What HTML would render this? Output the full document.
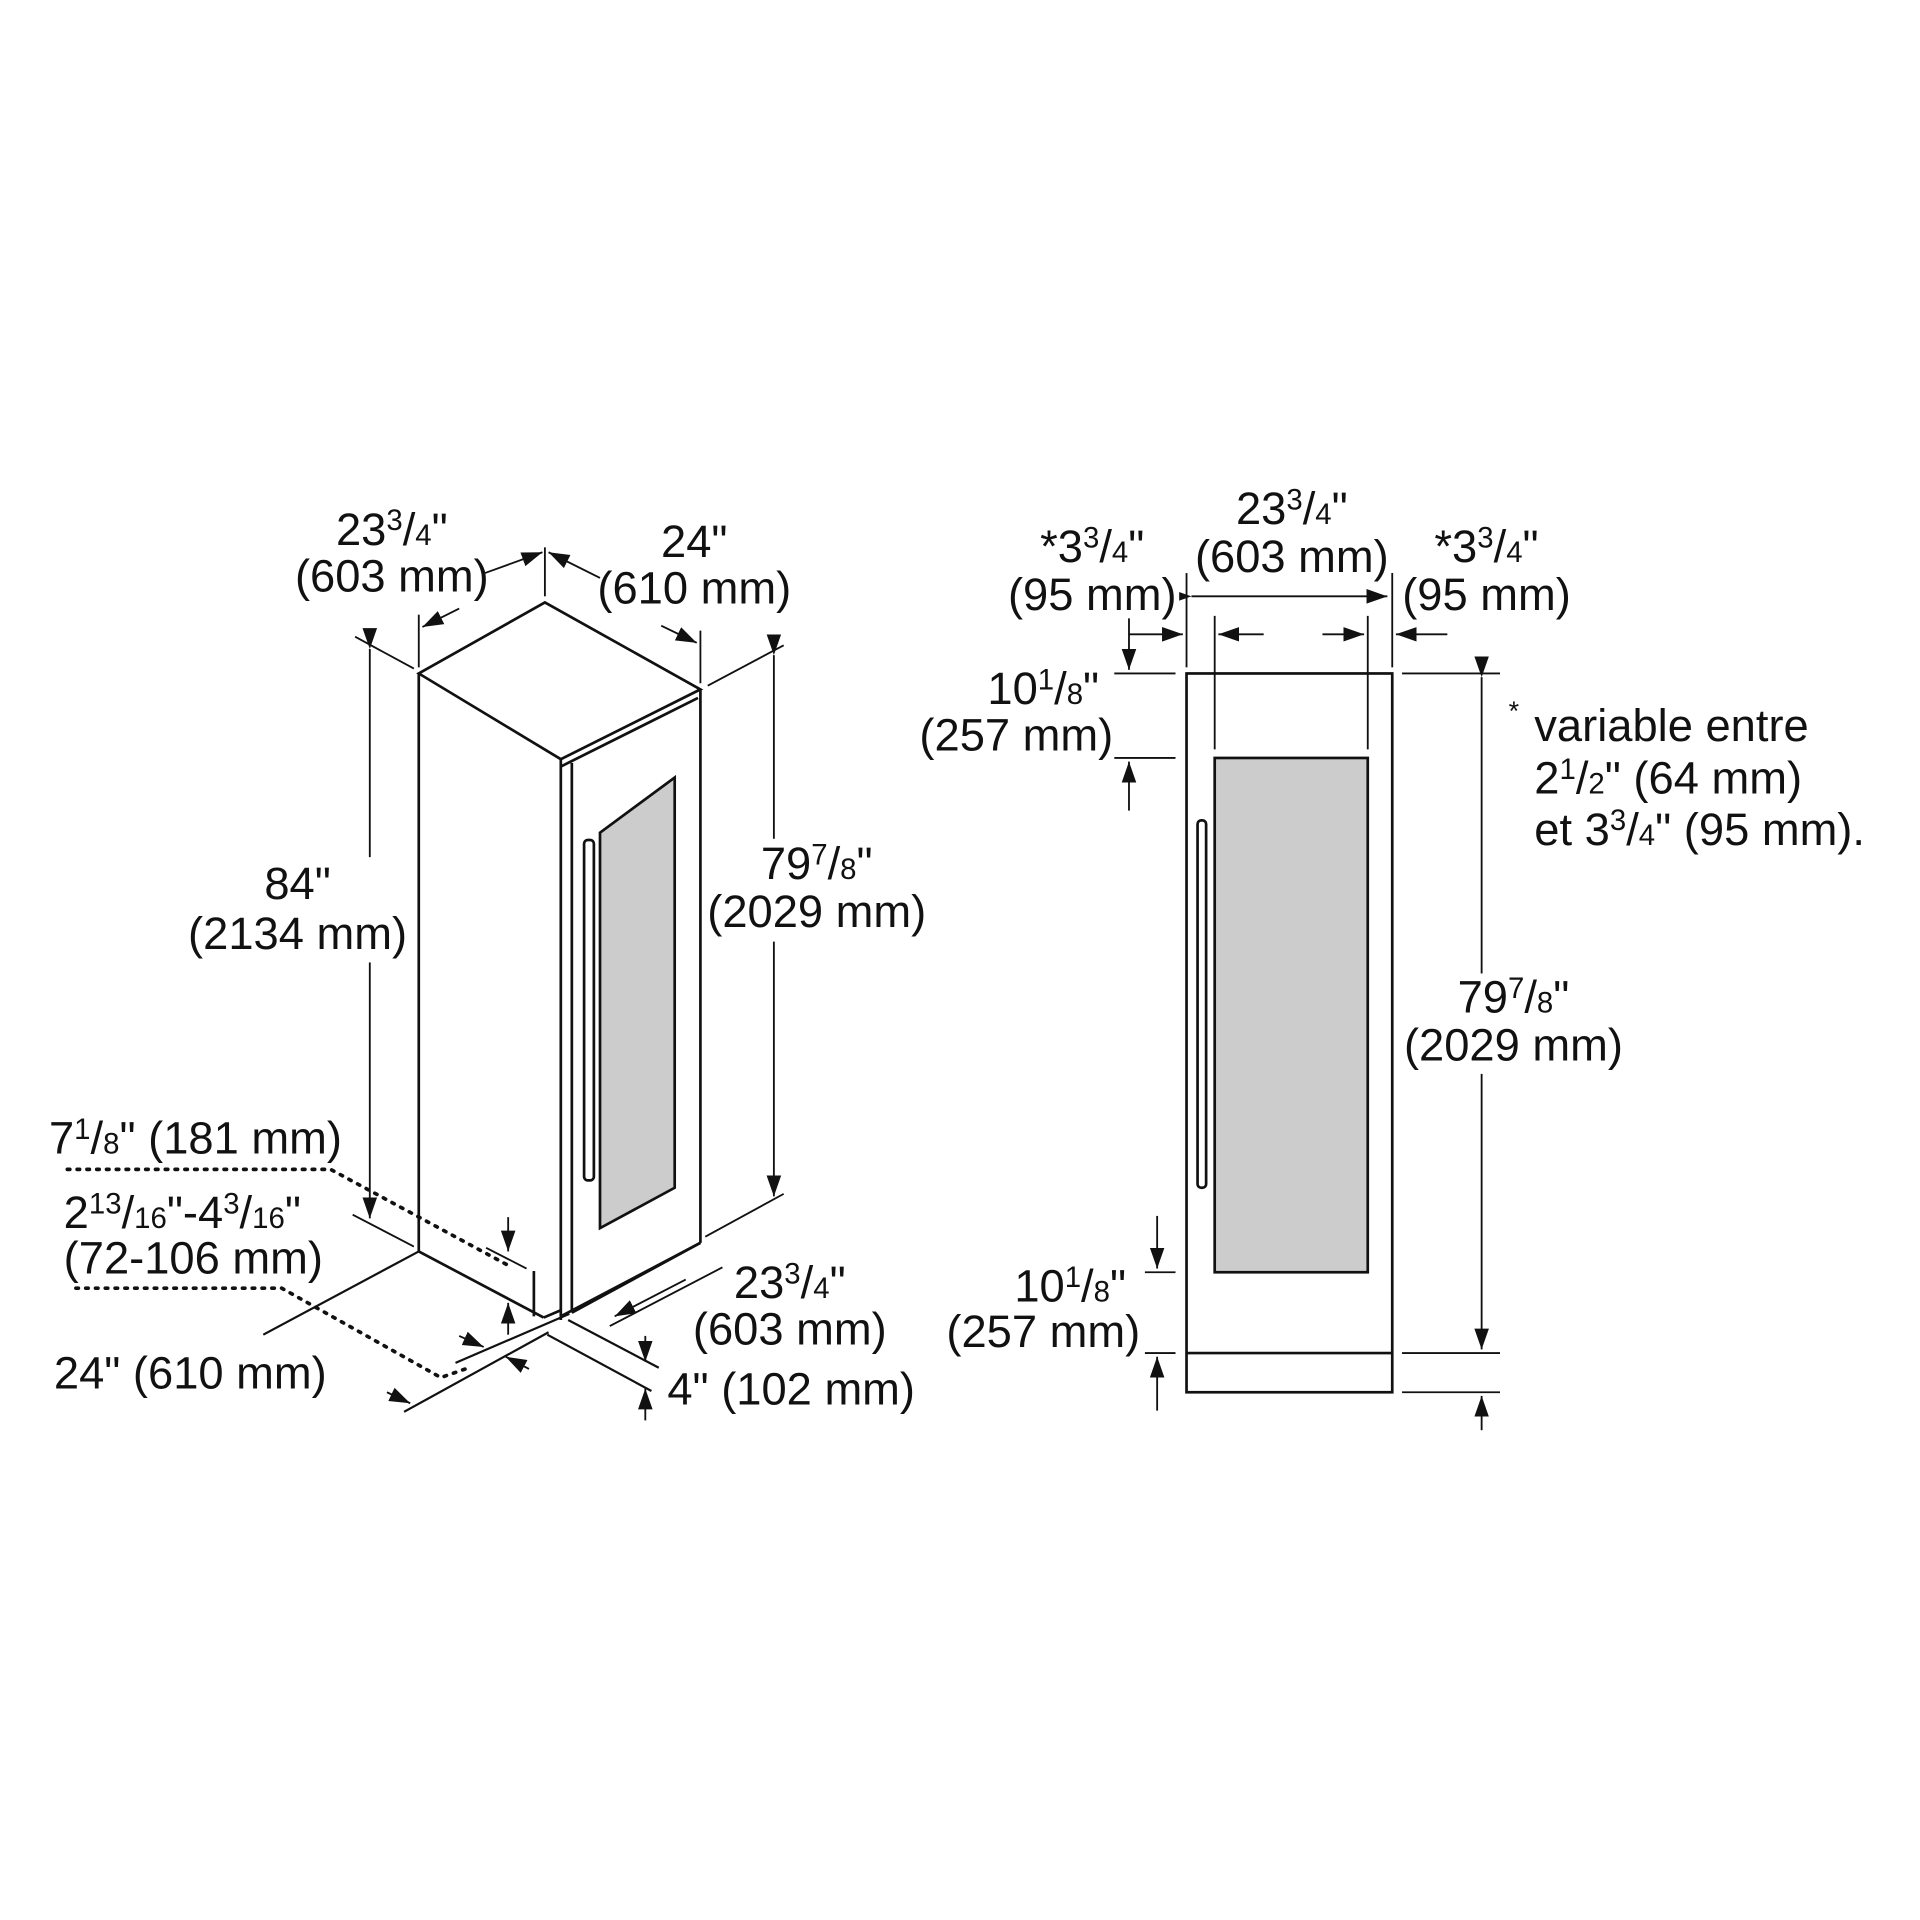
<!DOCTYPE html>
<html><head><style>html,body{margin:0;padding:0;background:#fff}svg{display:block}</style></head>
<body>
<svg width="1920" height="1920" viewBox="0 0 1568 1568" xmlns="http://www.w3.org/2000/svg" font-family="Liberation Sans, sans-serif" font-size="37" fill="#111">
<defs>
<marker id="a" viewBox="0 0 10 10" refX="10" refY="5" markerWidth="17" markerHeight="17" markerUnits="userSpaceOnUse" orient="auto"><path d="M0,1.5 L10,5 L0,8.5 z" fill="#111"/></marker>
</defs>
<g stroke="#111" stroke-width="2.2" fill="none">
<polygon points="342,550 445,492 572,563 458,620" fill="#fff"/>
<line x1="458" y1="626" x2="570" y2="570"/>
<line x1="342" y1="550" x2="342" y2="1022"/>
<line x1="458" y1="620" x2="458" y2="1078"/>
<line x1="467" y1="623" x2="467" y2="1072"/>
<line x1="572" y1="563" x2="572" y2="1015"/>
<line x1="467" y1="1072" x2="572" y2="1015"/>
<line x1="342" y1="1022" x2="444" y2="1076"/>
<line x1="444" y1="1076" x2="458" y2="1070"/>
<line x1="436" y1="1038" x2="436" y2="1075"/>
<polygon points="490,680 551,635 551,970 490,1003" fill="#ccc"/>
<rect x="477" y="686" width="8" height="278" rx="3" fill="#fff"/>
<line x1="445" y1="447" x2="445" y2="487" stroke-width="1.5"/>
<line x1="342" y1="502" x2="342" y2="545" stroke-width="1.5"/>
<line x1="572" y1="515" x2="572" y2="558" stroke-width="1.5"/>
<line x1="396" y1="468" x2="443" y2="451" marker-end="url(#a)" stroke-width="1.5"/>
<line x1="375" y1="497" x2="345" y2="512" marker-end="url(#a)" stroke-width="1.5"/>
<line x1="490" y1="472" x2="448" y2="451" marker-end="url(#a)" stroke-width="1.5"/>
<line x1="540" y1="511" x2="569" y2="525" marker-end="url(#a)" stroke-width="1.5"/>
<line x1="290" y1="520" x2="338" y2="546" stroke-width="1.5"/>
<line x1="302" y1="530" x2="302" y2="995" stroke-width="1.5" marker-start="url(#a)" marker-end="url(#a)"/>
<line x1="288" y1="992" x2="338" y2="1018" stroke-width="1.5"/>
<line x1="578" y1="560" x2="640" y2="527" stroke-width="1.5"/>
<line x1="632" y1="535" x2="632" y2="977" stroke-width="1.5" marker-start="url(#a)" marker-end="url(#a)"/>
<line x1="576" y1="1010" x2="640" y2="975" stroke-width="1.5"/>
<line x1="342" y1="1022" x2="215" y2="1090" stroke-width="1.8"/>
<line x1="372" y1="1113" x2="465" y2="1073" stroke-width="1.8"/>
<line x1="330" y1="1153" x2="448" y2="1088" stroke-width="1.8"/>
<line x1="458" y1="1075" x2="572" y2="1015"/>
<line x1="464" y1="1078" x2="538" y2="1117" stroke-width="1.8"/>
<line x1="447" y1="1090" x2="532" y2="1136" stroke-width="1.8"/>
<line x1="498" y1="1083" x2="590" y2="1035" stroke-width="1.5"/>
<line x1="397" y1="1019" x2="430" y2="1036" stroke-width="1.5"/>
<line x1="415" y1="994" x2="415" y2="1022" marker-end="url(#a)" stroke-width="1.5"/>
<line x1="415" y1="1090" x2="415" y2="1064" marker-end="url(#a)" stroke-width="1.5"/>
<line x1="375" y1="1091" x2="395" y2="1100" marker-end="url(#a)" stroke-width="1.5"/>
<line x1="432" y1="1118" x2="413" y2="1108" marker-end="url(#a)" stroke-width="1.5"/>
<line x1="316" y1="1137" x2="335" y2="1146" marker-end="url(#a)" stroke-width="1.5"/>
<line x1="527" y1="1091" x2="527" y2="1112" marker-end="url(#a)" stroke-width="1.5"/>
<line x1="527" y1="1160" x2="527" y2="1134" marker-end="url(#a)" stroke-width="1.5"/>
<line x1="560" y1="1045" x2="502" y2="1075" marker-end="url(#a)" stroke-width="1.5"/>
<polyline points="55,955 270,955 418,1035" stroke-dasharray="2,6" stroke-width="3" stroke-linecap="round"/>
<polyline points="62,1052 230,1052 360,1125 380,1118" stroke-dasharray="2,6" stroke-width="3" stroke-linecap="round"/>
<rect x="969" y="550" width="168" height="587" fill="#fff"/>
<line x1="969" y1="1105" x2="1137" y2="1105"/>
<rect x="992" y="619" width="125" height="420" fill="#ccc"/>
<rect x="978" y="670" width="7" height="300" rx="3" fill="#fff"/>
<line x1="992" y1="503" x2="992" y2="612" stroke-width="1.5"/>
<line x1="1117" y1="503" x2="1117" y2="612" stroke-width="1.5"/>
<line x1="969" y1="468" x2="969" y2="545" stroke-width="1.5"/>
<line x1="1137" y1="468" x2="1137" y2="545" stroke-width="1.5"/>
<line x1="973" y1="487" x2="1133" y2="487" stroke-width="1.5" marker-start="url(#a)" marker-end="url(#a)"/>
<line x1="922" y1="518" x2="966" y2="518" marker-end="url(#a)" stroke-width="1.5"/>
<line x1="1032" y1="518" x2="995" y2="518" marker-end="url(#a)" stroke-width="1.5"/>
<line x1="1080" y1="518" x2="1114" y2="518" marker-end="url(#a)" stroke-width="1.5"/>
<line x1="1182" y1="518" x2="1140" y2="518" marker-end="url(#a)" stroke-width="1.5"/>
<line x1="910" y1="550" x2="960" y2="550" stroke-width="1.5"/>
<line x1="910" y1="619" x2="960" y2="619" stroke-width="1.5"/>
<line x1="922" y1="505" x2="922" y2="547" marker-end="url(#a)" stroke-width="1.5"/>
<line x1="922" y1="662" x2="922" y2="622" marker-end="url(#a)" stroke-width="1.5"/>
<line x1="1145" y1="550" x2="1225" y2="550" stroke-width="1.5"/>
<line x1="1145" y1="1105" x2="1225" y2="1105" stroke-width="1.5"/>
<line x1="1145" y1="1137" x2="1225" y2="1137" stroke-width="1.5"/>
<line x1="1210" y1="553" x2="1210" y2="1102" marker-start="url(#a)" marker-end="url(#a)" stroke-width="1.5"/>
<line x1="1210" y1="1168" x2="1210" y2="1140" marker-end="url(#a)" stroke-width="1.5"/>
<line x1="935" y1="1039" x2="960" y2="1039" stroke-width="1.5"/>
<line x1="935" y1="1105" x2="960" y2="1105" stroke-width="1.5"/>
<line x1="945" y1="993" x2="945" y2="1036" marker-end="url(#a)" stroke-width="1.5"/>
<line x1="945" y1="1152" x2="945" y2="1108" marker-end="url(#a)" stroke-width="1.5"/>
</g>
<g fill="#fff">
<rect x="150" y="700" width="186" height="86"/>
<rect x="575" y="685" width="186" height="84"/>
<rect x="1143" y="795" width="188" height="82"/>
<rect x="955" y="473" width="8" height="20"/>
</g>
<g>
<text x="320" y="445" text-anchor="middle">23<tspan font-size="24" dy="-12">3</tspan><tspan dy="12">/</tspan><tspan font-size="24">4</tspan>"</text>
<text x="320" y="483" text-anchor="middle">(603 mm)</text>
<text x="567" y="455" text-anchor="middle">24"</text>
<text x="567" y="493" text-anchor="middle">(610 mm)</text>
<text x="243" y="734" text-anchor="middle">84"</text>
<text x="243" y="775" text-anchor="middle">(2134 mm)</text>
<text x="667" y="718" text-anchor="middle">79<tspan font-size="24" dy="-12">7</tspan><tspan dy="12">/</tspan><tspan font-size="24">8</tspan>"</text>
<text x="667" y="757" text-anchor="middle">(2029 mm)</text>
<text x="40" y="942">7<tspan font-size="24" dy="-12">1</tspan><tspan dy="12">/</tspan><tspan font-size="24">8</tspan>" (181 mm)</text>
<text x="52" y="1003">2<tspan font-size="24" dy="-12">13</tspan><tspan dy="12">/</tspan><tspan font-size="24">16</tspan>"-4<tspan font-size="24" dy="-12">3</tspan><tspan dy="12">/</tspan><tspan font-size="24">16</tspan>"</text>
<text x="52" y="1040">(72-106 mm)</text>
<text x="44" y="1134">24" (610 mm)</text>
<text x="645" y="1060" text-anchor="middle">23<tspan font-size="24" dy="-12">3</tspan><tspan dy="12">/</tspan><tspan font-size="24">4</tspan>"</text>
<text x="645" y="1098" text-anchor="middle">(603 mm)</text>
<text x="545" y="1147">4" (102 mm)</text>
<text x="1055" y="428" text-anchor="middle">23<tspan font-size="24" dy="-12">3</tspan><tspan dy="12">/</tspan><tspan font-size="24">4</tspan>"</text>
<text x="1055" y="467" text-anchor="middle">(603 mm)</text>
<text x="892" y="459" text-anchor="middle">*3<tspan font-size="24" dy="-12">3</tspan><tspan dy="12">/</tspan><tspan font-size="24">4</tspan>"</text>
<text x="892" y="498" text-anchor="middle">(95 mm)</text>
<text x="1214" y="459" text-anchor="middle">*3<tspan font-size="24" dy="-12">3</tspan><tspan dy="12">/</tspan><tspan font-size="24">4</tspan>"</text>
<text x="1214" y="498" text-anchor="middle">(95 mm)</text>
<text x="852" y="575" text-anchor="middle">10<tspan font-size="24" dy="-12">1</tspan><tspan dy="12">/</tspan><tspan font-size="24">8</tspan>"</text>
<text x="830" y="613" text-anchor="middle">(257 mm)</text>
<text x="1232" y="588" font-size="22">*</text>
<text x="1253" y="605">variable entre</text>
<text x="1253" y="648">2<tspan font-size="24" dy="-12">1</tspan><tspan dy="12">/</tspan><tspan font-size="24">2</tspan>" (64 mm)</text>
<text x="1253" y="690">et 3<tspan font-size="24" dy="-12">3</tspan><tspan dy="12">/</tspan><tspan font-size="24">4</tspan>" (95 mm).</text>
<text x="1236" y="827" text-anchor="middle">79<tspan font-size="24" dy="-12">7</tspan><tspan dy="12">/</tspan><tspan font-size="24">8</tspan>"</text>
<text x="1236" y="866" text-anchor="middle">(2029 mm)</text>
<text x="874" y="1063" text-anchor="middle">10<tspan font-size="24" dy="-12">1</tspan><tspan dy="12">/</tspan><tspan font-size="24">8</tspan>"</text>
<text x="852" y="1100" text-anchor="middle">(257 mm)</text>
</g>
</svg>
</body></html>
